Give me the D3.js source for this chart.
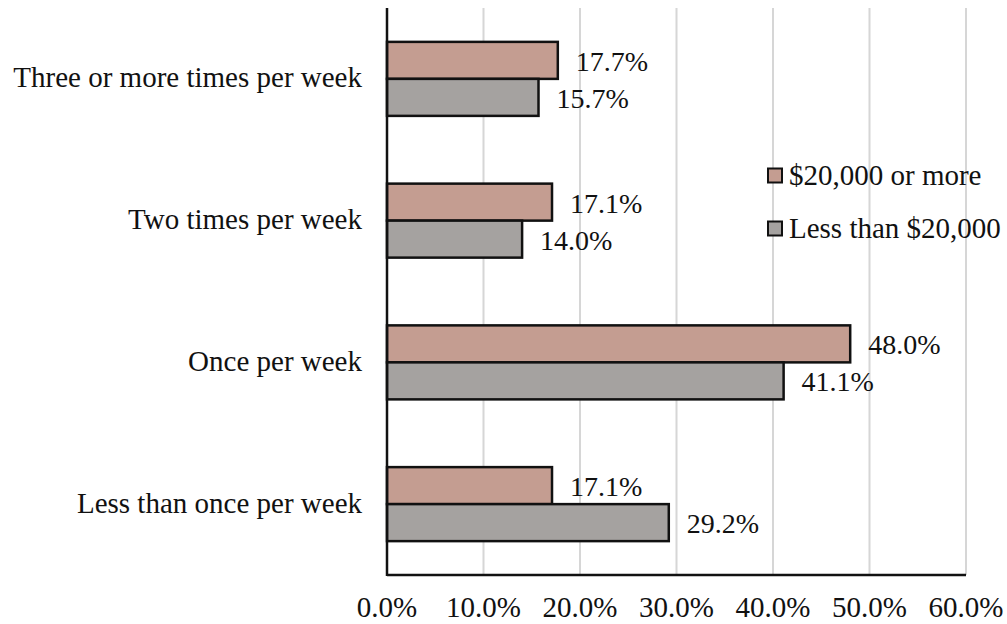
<!DOCTYPE html>
<html><head><meta charset="utf-8">
<script src="https://cdn.jsdelivr.net/npm/d3@7"></script>
<style>body{margin:0;background:#fff}svg{display:block}text{font-family:"Liberation Serif","Times New Roman",serif;fill:#111}</style>
</head><body><svg id="c" width="1007" height="624"></svg>
<script>
const categories = ["Three or more times per week","Two times per week","Once per week","Less than once per week"];
const seriesNames = ["$20,000 or more","Less than $20,000"];
const high = [17.7, 17.1, 48.0, 17.1];
const low = [15.7, 14.0, 41.1, 29.2];
const ticks = [0,10,20,30,40,50,60];
const colors = ["#c49d91","#a5a2a0"];

const svg = d3.select("#c");
const L = 387, R = 966, T = 8, B = 575;
const x = d3.scaleLinear().domain([0,60]).range([L,R]);
const y = d3.scaleBand().domain(categories).range([T,B]).paddingInner(0).paddingOuter(0);
const bh = 37;

svg.append("g").selectAll("line").data(ticks.slice(1)).join("line")
  .attr("x1",d=>x(d)).attr("x2",d=>x(d)).attr("y1",T).attr("y2",B)
  .attr("stroke","#d6d6d6").attr("stroke-width",2);

const series = [high, low];
series.forEach((vals,si)=>{
  const g = svg.append("g");
  g.selectAll("rect").data(categories).join("rect")
    .attr("x",x(0)).attr("width",(d,i)=>x(vals[i])-x(0))
    .attr("y",d=>y(d)+y.bandwidth()/2 - bh + si*bh).attr("height",bh)
    .attr("fill",colors[si]).attr("stroke","#111").attr("stroke-width",2.5);
  g.selectAll("text").data(categories).join("text")
    .attr("x",(d,i)=>x(vals[i])+18)
    .attr("y",d=>y(d)+y.bandwidth()/2 - bh/2 + si*bh + 10.5)
    .attr("font-size",28)
    .text((d,i)=>vals[i].toFixed(1)+"%");
});

// axes
svg.append("line").attr("x1",L).attr("x2",L).attr("y1",T).attr("y2",B+1).attr("stroke","#111").attr("stroke-width",2.5);
svg.append("line").attr("x1",L).attr("x2",R).attr("y1",B).attr("y2",B).attr("stroke","#111").attr("stroke-width",2.5);

svg.append("g").selectAll("text").data(ticks).join("text")
  .attr("x",d=>x(d)).attr("y",617).attr("text-anchor","middle").attr("font-size",29)
  .text(d=>d.toFixed(1)+"%");

svg.append("g").selectAll("text").data(categories).join("text")
  .attr("x",362).attr("y",d=>y(d)+y.bandwidth()/2 + 8.5).attr("text-anchor","end")
  .attr("font-size",29).text(d=>d);

// legend
const lg = svg.append("g");
seriesNames.forEach((n,i)=>{
  const yy = 175.5 + i*53;
  lg.append("rect").attr("x",768).attr("y",yy-7).attr("width",14).attr("height",14)
    .attr("fill",colors[i]).attr("stroke","#111").attr("stroke-width",2);
  lg.append("text").attr("x",789).attr("y",yy+9)
    .attr("font-size",29).text(n);
});
</script></body></html>
